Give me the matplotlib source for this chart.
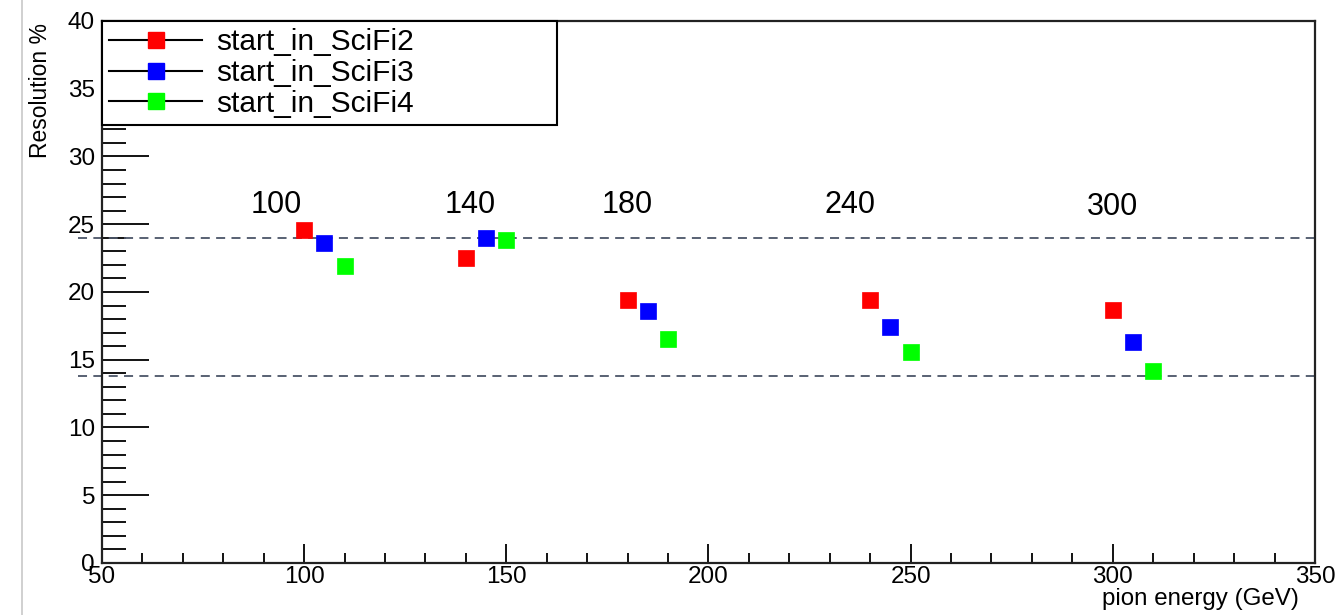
import matplotlib.pyplot as plt
from matplotlib.lines import Line2D
from matplotlib.ticker import MultipleLocator

plt.rcParams['font.family'] = ['Liberation Sans', 'DejaVu Sans']

# pion energies and resolutions (%) per starting layer
energy_scifi2 = [100, 140, 180, 240, 300]
energy_scifi3 = [105, 145, 185, 245, 305]
energy_scifi4 = [110, 150, 190, 250, 310]
res_scifi2 = [24.6, 22.5, 19.4, 19.4, 18.7]
res_scifi3 = [23.6, 24.0, 18.6, 17.4, 16.3]
res_scifi4 = [21.9, 23.8, 16.5, 15.6, 14.2]

series_labels = ['start_in_SciFi2', 'start_in_SciFi3', 'start_in_SciFi4']
series_colors = ['#ff0000', '#0000ff', '#00ff00']

# beam energy annotations
beam_labels = ['100', '140', '180', '240', '300']
beam_label_x = [93, 141, 180, 235, 300]
beam_label_y = [26.4, 26.4, 26.4, 26.4, 26.3]

# reference band
ref_levels = [24.0, 13.8]

fig = plt.figure(figsize=(13.4, 6.15), dpi=100)
ax = fig.add_axes([0.0761, 0.0846, 0.9052, 0.8813])

for xs, ys, c in zip([energy_scifi2, energy_scifi3, energy_scifi4],
                     [res_scifi2, res_scifi3, res_scifi4], series_colors):
    ax.plot(xs, ys, linestyle='none', marker='s', markersize=12,
            markerfacecolor=c, markeredgecolor=c, markeredgewidth=0.5, zorder=3)

for lvl in ref_levels:
    ax.plot([44, 350], [lvl, lvl], color='#4b5568', linestyle=(0, (5, 3.5)),
            linewidth=1.3, clip_on=False, zorder=2)

for lab, x, y in zip(beam_labels, beam_label_x, beam_label_y):
    ax.text(x, y, lab, ha='center', va='center', fontsize=22)

ax.set_xlim(50, 350)
ax.set_ylim(0, 40)
ax.xaxis.set_major_locator(MultipleLocator(50))
ax.xaxis.set_minor_locator(MultipleLocator(10))
ax.yaxis.set_major_locator(MultipleLocator(5))
ax.yaxis.set_minor_locator(MultipleLocator(1))
ax.tick_params(axis='x', which='major', direction='in', length=14, width=1.3,
               labelsize=17.5, pad=2)
ax.tick_params(axis='x', which='minor', direction='in', length=7, width=1.3)
ax.tick_params(axis='y', which='major', direction='in', length=34, width=1.3,
               labelsize=17.5, pad=5)
ax.tick_params(axis='y', which='minor', direction='in', length=17, width=1.3)
for s in ax.spines.values():
    s.set_linewidth(1.6)
    s.set_color('#222222')

ax.set_xlabel('pion energy (GeV)', fontsize=17.4, loc='right')
ax.xaxis.set_label_coords(0.987, -0.047)
ax.set_ylabel('Resolution %', fontsize=16.5, loc='top')
ax.yaxis.set_label_coords(-0.041, 0.997)

handles = [Line2D([0], [0], color='black', linewidth=1.5, marker='s', markersize=12,
                  markerfacecolor=c, markeredgecolor=c) for c in series_colors]
leg = ax.legend(handles, series_labels, loc='upper left',
                bbox_to_anchor=(0, 0, 0.375, 1.0), mode='expand',
                fontsize=21.5, frameon=True, fancybox=False, framealpha=1,
                edgecolor='black', borderaxespad=0, borderpad=0.25,
                labelspacing=0.09, handlelength=3.1, handletextpad=0.47)
leg.get_frame().set_linewidth(1.5)
leg.set_zorder(5)

# screenshot border line on the left
fig.add_artist(Line2D([22 / 1340, 22 / 1340], [0, 1], color='#c8c8c8', linewidth=1.2))

fig.savefig('out.png', dpi=100)
